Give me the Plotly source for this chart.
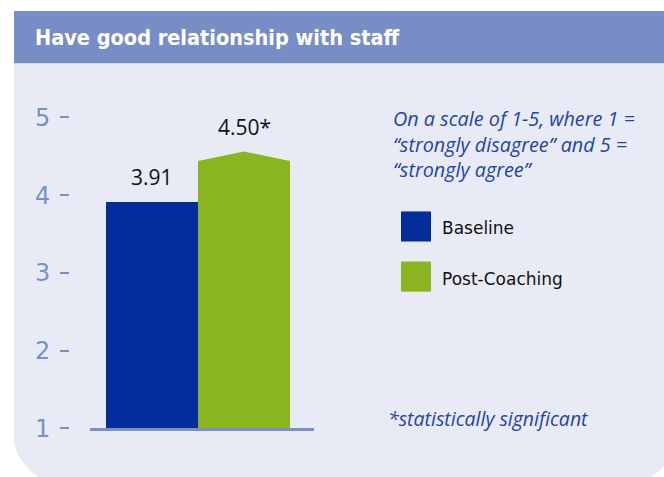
import plotly.graph_objects as go

# ---- data ----
categories = ["Baseline", "Post-Coaching"]
values = [3.91, 4.50]
value_labels = ["3.91", "4.50*"]
significant = [False, True]
colors = ["#022d9a", "#8ab420"]
tick_vals = [1, 2, 3, 4, 5]
tick_text = ["1", "2", "3", "4", "5"]
title_text = "Have good relationship with staff"
note_lines = ["On a scale of 1-5, where 1 =",
              "\u201cstrongly disagree\u201d and 5 =",
              "\u201cstrongly agree\u201d"]
footnote = "*statistically significant"

W, H = 664, 477           # reference frame
H_FIG = 492               # figure height (capture is squeezed vertically to 477)
AXIS_COLOR = "#7b8fc7"
NOTE_COLOR = "#2443a8"
BAND_COLOR = "#788dc6"
PANEL_COLOR = "#e8ebf5"
CAP = 0.06  # half-height of the pointed cap on significant bars


def px(x):
    return x / W


def py(y):
    return 1 - y / H


fig = go.Figure()

for i, (cat, v, sig, c) in enumerate(zip(categories, values, significant, colors)):
    top = v - CAP if sig else v
    fig.add_trace(go.Bar(x=[i], y=[top - 1], base=[1], width=[1], name=cat,
                         marker=dict(color=c, line=dict(width=0)),
                         showlegend=False, hoverinfo="skip"))
    if sig:
        fig.add_trace(go.Scatter(x=[i - 0.5, i, i + 0.5, i - 0.5],
                                 y=[v - CAP, v + CAP, v - CAP, v - CAP],
                                 fill="toself", fillcolor=c, mode="lines",
                                 line=dict(width=0, color=c),
                                 showlegend=False, hoverinfo="skip"))
    fig.add_annotation(x=i, y=(v + CAP if sig else v), text=value_labels[i],
                       showarrow=False, yanchor="bottom", yshift=9,
                       font=dict(family="Open Sans", size=21, color="#111111"))

# background panel with rounded bottom corners and the title band
L, T, R, B, r = 14, 63, 676, 483, 45
k = 0.45 * r
path = (f"M {px(L)},{py(T)} L {px(R)},{py(T)} L {px(R)},{py(B - r)} "
        f"C {px(R)},{py(B - r + k)} {px(R - r + k)},{py(B)} {px(R - r)},{py(B)} "
        f"L {px(L + r)},{py(B)} "
        f"C {px(L + r - k)},{py(B)} {px(L)},{py(B - r + k)} {px(L)},{py(B - r)} Z")
shapes = [
    dict(type="path", xref="paper", yref="paper", path=path,
         fillcolor=PANEL_COLOR, line=dict(width=0), layer="below"),
    dict(type="rect", xref="paper", yref="paper", x0=px(14), x1=px(664),
         y0=py(63), y1=py(11), fillcolor=BAND_COLOR, line=dict(width=0), layer="below"),
]

# legend (custom squares + labels)
for j, (cat, c) in enumerate(zip(categories, colors)):
    y_top = 211 + 50 * j
    shapes.append(dict(type="rect", xref="paper", yref="paper",
                       x0=px(401), x1=px(431), y0=py(y_top + 30), y1=py(y_top),
                       fillcolor=c, line=dict(width=0)))
    fig.add_annotation(xref="paper", yref="paper", x=px(440), y=py(y_top + 17),
                       text=cat, showarrow=False, xanchor="left", yanchor="middle",
                       font=dict(family="DejaVu Sans", size=17, color="#111111"))

fig.add_annotation(xref="paper", yref="paper", x=px(33), y=py(37), text=f"<b>{title_text}</b>",
                   showarrow=False, xanchor="left", yanchor="middle",
                   font=dict(family="DejaVu Sans Condensed, Roboto, sans-serif", size=21.5,
                             color="white"))

fig.add_annotation(xref="paper", yref="paper", x=px(391), y=py(144),
                   text="<i>" + "<br>".join(note_lines) + "</i>", align="left",
                   showarrow=False, xanchor="left", yanchor="middle",
                   font=dict(family="Open Sans", size=19.8, color=NOTE_COLOR))

fig.add_annotation(xref="paper", yref="paper", x=px(386), y=py(418),
                   text=f"<i>{footnote}</i>", showarrow=False, xanchor="left", yanchor="middle",
                   font=dict(family="Open Sans", size=19.5, color=NOTE_COLOR))

# axes geometry
Y1_PX, UNIT = 427.5, 77.6
X_LEFT, X_RIGHT, CENTER0, BARW = 90, 314, 152, 92
x0 = -(CENTER0 - X_LEFT) / BARW
x1 = x0 + (X_RIGHT - X_LEFT) / BARW

fig.update_layout(
    width=W, height=H_FIG, autosize=False,
    margin=dict(l=0, r=0, t=0, b=0),
    paper_bgcolor="white", plot_bgcolor="rgba(0,0,0,0)",
    barmode="overlay", bargap=0,
    shapes=shapes,
    showlegend=False,
    xaxis=dict(domain=[px(X_LEFT), px(X_RIGHT)], range=[x0, x1],
               showline=True, linecolor=AXIS_COLOR, linewidth=3,
               showticklabels=False, ticks="", showgrid=False, zeroline=False,
               fixedrange=True),
    yaxis=dict(domain=[py(Y1_PX), 1], range=[1, 1 + Y1_PX / UNIT],
               anchor="free", position=px(69), side="left",
               tickvals=tick_vals, ticktext=tick_text,
               ticks="outside", ticklen=9, tickwidth=2, tickcolor=AXIS_COLOR,
               ticklabelstandoff=5,
               tickfont=dict(family="DejaVu Sans", size=24, color=AXIS_COLOR),
               showline=False, showgrid=False, zeroline=False, fixedrange=True),
)

fig.write_html(
    "out.html",
    config={"displayModeBar": False, "staticPlot": True},
    post_script=("document.documentElement.style.margin='0';"
                 "document.body.style.margin='0';"
                 "document.documentElement.style.overflow='hidden';"
                 "document.body.style.overflow='hidden';"),
)
